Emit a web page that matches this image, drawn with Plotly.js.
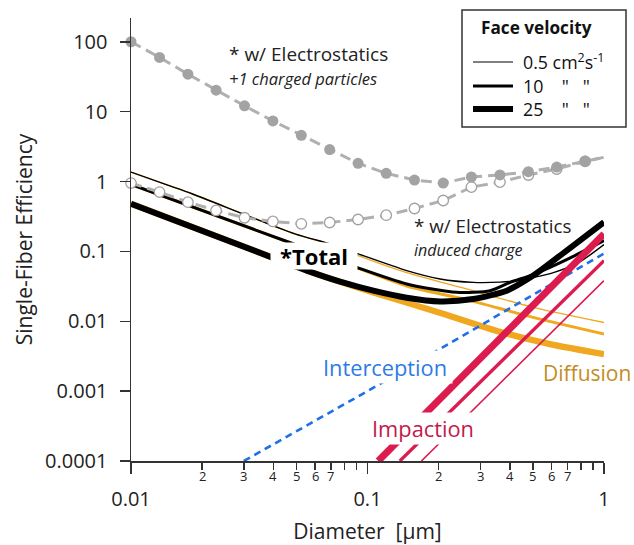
<!DOCTYPE html>
<html><head><meta charset="utf-8">
<script src="https://cdn.plot.ly/plotly-3.0.1.min.js"></script>
<style>html,body{margin:0;padding:0;background:#fff}</style>
</head><body><div id="chart" style="width:634px;height:545px"></div>
<script>
const FONT = '"Open Sans", "Noto Sans", sans-serif';

// ---- Data ----
// electrostatic curves (dots every ~0.12 decade), last point = line end at 1 µm
const electroX = [0.01, 0.0132, 0.0174, 0.0229, 0.0302, 0.0398, 0.0525, 0.0692, 0.0912, 0.120, 0.158, 0.209, 0.275, 0.363, 0.479, 0.631, 0.832, 1.0];
const chargedY = [100, 59.7, 34.4, 20.3, 12.1, 7.36, 4.58, 2.86, 1.82, 1.31, 1.05, 0.95, 1.16, 1.24, 1.38, 1.61, 1.96, 2.22];
const inducedY = [0.95, 0.705, 0.506, 0.385, 0.303, 0.268, 0.248, 0.259, 0.286, 0.330, 0.411, 0.535, 0.832, 0.98, 1.24, 1.51, 1.94, 2.22];

// totals
const total05X = [0.01, 0.0144, 0.0181, 0.0493, 0.0694, 0.0914, 0.1465, 0.2028, 0.2801, 0.363, 0.4285, 0.611, 0.792, 1.0];
const total05Y = [1.365, 0.879, 0.668, 0.178, 0.128, 0.092, 0.0531, 0.0403, 0.0360, 0.0363, 0.0381, 0.0497, 0.0714, 0.125];
const total10X = [0.01, 0.0478, 0.0899, 0.1465, 0.2384, 0.330, 0.401, 0.501, 0.695, 1.0];
const total10Y = [0.908, 0.1306, 0.0591, 0.0342, 0.0259, 0.0274, 0.0360, 0.0465, 0.0762, 0.143];
const total25X = [0.01, 0.0394, 0.0554, 0.0766, 0.1059, 0.1465, 0.2028, 0.2801, 0.388, 0.502, 0.695, 1.0];
const total25Y = [0.481, 0.0822, 0.0531, 0.0369, 0.0274, 0.0217, 0.0192, 0.0208, 0.0274, 0.0450, 0.1028, 0.262];

// diffusion (coincides with the totals at small diameters)
const diff05X = [0.01, 0.0144, 0.0181, 0.0493, 0.0694, 0.0914, 0.1465, 0.2624, 0.502, 1.0];
const diff05Y = [1.365, 0.879, 0.668, 0.178, 0.127, 0.0870, 0.0497, 0.0290, 0.0158, 0.0096];
const diff10X = [0.01, 0.0478, 0.0899, 0.1465, 0.2624, 0.502, 1.0];
const diff10Y = [0.908, 0.1306, 0.0585, 0.0320, 0.0204, 0.01135, 0.00655];
const diff25X = [0.01, 0.0394, 0.0554, 0.0766, 0.1059, 0.2086, 0.363, 0.591, 1.0];
const diff25Y = [0.481, 0.0822, 0.0531, 0.0366, 0.0258, 0.0128, 0.00706, 0.00471, 0.00338];

// interception
const interX = [0.03, 0.1, 1.0];
const interY = [0.0001, 0.001, 0.093];

// impaction
const imp05X = [0.169, 1.0], imp05Y = [0.0001, 0.0381];
const imp10X = [0.137, 1.0], imp10Y = [0.0001, 0.0738];
const imp25X = [0.111, 1.0], imp25Y = [0.0001, 0.178];

// axes
const yTickVals = [0.0001, 0.001, 0.01, 0.1, 1, 10, 100];
const yTickText = ['0.0001', '0.001', '0.01', '0.1', '1', '10', '100'];
const xMajorVals = [0.01, 0.1, 1];
const xMajorText = ['0.01', '0.1', '1'];
const xMinorVals = [0.02,0.03,0.04,0.05,0.06,0.07,0.08,0.09,0.2,0.3,0.4,0.5,0.6,0.7,0.8,0.9];
const xMinorText = ['2','3','4','5','6','7','','','2','3','4','5','6','7','',''];

// legend
const legendTitle = 'Face velocity';
const legendLabels = ['0.5 cm<sup>2</sup>s<sup>-1</sup>',
  '10\u00a0\u00a0\u00a0\u00a0"\u00a0\u00a0\u00a0"',
  '25\u00a0\u00a0\u00a0\u00a0"\u00a0\u00a0\u00a0"'];

// ---- Styles ----
const ORANGE = '#efa81f', RED = '#dc1b4f', BLUE = '#1f6fe8', GRAY = '#b0b0b0';

function line(x, y, color, width, dash, shape) {
  return {x, y, type: 'scatter', mode: 'lines', hoverinfo: 'skip', showlegend: false,
    line: {color, width, dash: dash || 'solid', shape: shape || 'linear', smoothing: 0.7}};
}

const traces = [
  line(diff05X, diff05Y, ORANGE, 1.4, null, 'spline'),
  line(diff10X, diff10Y, ORANGE, 3, null, 'spline'),
  line(diff25X, diff25Y, ORANGE, 6.2, null, 'spline'),
  line(interX, interY, BLUE, 2.6, '7px,5px'),
  line(total05X, total05Y, '#000', 1.4, null, 'spline'),
  line(total10X, total10Y, '#000', 3, null, 'spline'),
  line(total25X, total25Y, '#000', 6, null, 'spline'),
  line(imp05X, imp05Y, RED, 1.6),
  line(imp10X, imp10Y, RED, 3.3),
  line(imp25X, imp25Y, RED, 7),
  line(electroX, inducedY, GRAY, 3, '11px,6px'),
  line(electroX, chargedY, GRAY, 3, '11px,6px'),
  {x: electroX.slice(0, -1), y: inducedY.slice(0, -1), type: 'scatter', mode: 'markers', cliponaxis: false,
    hoverinfo: 'skip', showlegend: false, marker: {size: 10.5, color: '#fff', line: {color: '#a0a0a0', width: 1.3}}},
  {x: electroX.slice(0, -1), y: chargedY.slice(0, -1), type: 'scatter', mode: 'markers', cliponaxis: false,
    hoverinfo: 'skip', showlegend: false, marker: {size: 11, color: '#a3a3a3', line: {width: 0}}}
];

// pixel helpers for layout decorations (paper coords)
const PL = 131, PW = 473, PB = 461, PH = 443;
const px = v => (v - PL) / PW;
const py = v => (PB - v) / PH;

const annotations = [
  {text: '* w/ Electrostatics', x: px(227), y: py(54), xanchor: 'left', yanchor: 'middle', font: {size: 19, color: '#222'}},
  {text: '<i>+1 charged particles</i>', x: px(227), y: py(78), xanchor: 'left', yanchor: 'middle', font: {size: 16.5, color: '#222'}},
  {text: '* w/ Electrostatics', x: px(412), y: py(226), xanchor: 'left', yanchor: 'middle', font: {size: 18.8, color: '#222'}},
  {text: '<i>induced charge</i>', x: px(412), y: py(250), xanchor: 'left', yanchor: 'middle', font: {size: 16, color: '#222'}},
  {text: '<b>*Total</b>', x: px(314), y: py(256), xanchor: 'center', yanchor: 'middle', width: 86, height: 26,
    bgcolor: '#fff', borderpad: 0, font: {size: 22, color: '#000'}},
  {text: 'Interception', x: px(385), y: py(367), xanchor: 'center', yanchor: 'middle', width: 134, height: 32,
    bgcolor: '#fff', borderpad: 0, font: {size: 21.8, color: '#2d7be6'}},
  {text: 'Impaction', x: px(423), y: py(428.5), xanchor: 'center', yanchor: 'middle', width: 108, height: 31,
    bgcolor: '#fff', borderpad: 0, font: {size: 21.8, color: '#c21a4c'}},
  {text: 'Diffusion', x: px(587), y: py(373), xanchor: 'center', yanchor: 'middle', font: {size: 21, color: '#c38d22'}},
  {text: '<b>' + legendTitle + '</b>', x: px(479), y: py(27.5), xanchor: 'left', yanchor: 'middle', font: {size: 17.2, color: '#111'}}
];
const rowY = [62, 86, 109];
const rowW = [1.2, 2.8, 6];
const shapes = [
  {type: 'rect', xref: 'paper', yref: 'paper', x0: px(462), x1: px(626), y0: py(127), y1: py(10),
    line: {color: '#333', width: 1.5}, fillcolor: '#fff', layer: 'above'}
];
legendLabels.forEach((lab, i) => {
  shapes.push({type: 'line', xref: 'paper', yref: 'paper', x0: px(473), x1: px(513), y0: py(rowY[i]), y1: py(rowY[i]),
    line: {color: '#000', width: rowW[i]}, layer: 'above'});
  annotations.push({text: lab, x: px(521), y: py(rowY[i]), xanchor: 'left', yanchor: 'middle', font: {size: 17.8, color: '#111'}});
});
annotations.forEach(a => { a.xref = 'paper'; a.yref = 'paper'; a.showarrow = false; });

// minor x tick labels (2..7) placed under the minor ticks, in log10 axis units
xMinorVals.forEach((v, i) => {
  if (!xMinorText[i]) return;
  annotations.push({text: xMinorText[i], xref: 'x', yref: 'paper', x: Math.log10(v), y: 0, yanchor: 'top',
    xanchor: 'center', yshift: -4, showarrow: false, font: {size: 13, color: '#222'}});
});

const axisCommon = {type: 'log', showgrid: false, zeroline: false, ticks: 'outside', tickwidth: 1.5, tickcolor: '#333', tickmode: 'array'};

const layout = {
  width: 634, height: 545,
  margin: {l: PL, r: 634 - PL - PW, t: PB - PH, b: 545 - PB},
  paper_bgcolor: '#fff', plot_bgcolor: '#fff', showlegend: false,
  font: {family: FONT, color: '#222'},
  xaxis: Object.assign({}, axisCommon, {range: [-2, 0], tickvals: xMajorVals, ticktext: xMajorText, ticklen: 11,
    minor: {tickmode: 'array', tickvals: xMinorVals, ticks: 'outside', ticklen: 7, tickwidth: 1.5, tickcolor: '#333', showgrid: false},
    showline: true, linecolor: '#333', linewidth: 1.5, tickfont: {size: 20, color: '#222'}, ticklabelstandoff: 8,
    title: {text: 'Diameter\u00a0\u00a0[µm]', font: {size: 21, color: '#222'}, standoff: 16}}),
  yaxis: Object.assign({}, axisCommon, {range: [-4, 2.34], tickvals: yTickVals, ticktext: yTickText, ticklen: 10,
    showline: true, linecolor: '#333', linewidth: 1.5, tickfont: {size: 20, color: '#222'}, ticklabelstandoff: 8,
    title: {text: 'Single-Fiber Efficiency', font: {size: 21, color: '#222'}, standoff: 6}}),
  annotations, shapes
};

Plotly.newPlot('chart', traces, layout, {staticPlot: true, displayModeBar: false});
</script></body></html>
